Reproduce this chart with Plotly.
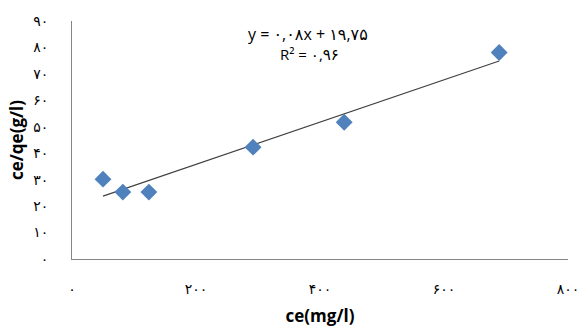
import plotly.graph_objects as go

# data
ce = [50, 82, 124, 292, 439, 689]
ce_qe = [30.2, 25.3, 25.3, 42.3, 51.7, 78.1]
slope = 0.08
intercept = 19.75
eq_text = "y = ۰,۰۸x + ۱۹,۷۵"
r2_text = "R² = ۰,۹۶"

x_tick_vals = [0, 200, 400, 600, 800]
x_tick_text = ["۰", "۲۰۰", "۴۰۰", "۶۰۰", "۸۰۰"]
y_tick_vals = [0, 10, 20, 30, 40, 50, 60, 70, 80, 90]
y_tick_text = ["۰", "۱۰", "۲۰", "۳۰", "۴۰", "۵۰", "۶۰", "۷۰", "۸۰", "۹۰"]

trend_x = [min(ce), max(ce)]
trend_y = [slope * v + intercept for v in trend_x]

font_fam = "Open Sans, DejaVu Sans, sans-serif"
digit_fam = "DejaVu Sans, sans-serif"

fig = go.Figure()
fig.add_trace(go.Scatter(
    x=trend_x, y=trend_y, mode="lines",
    line=dict(color="#404040", width=1.2), showlegend=False, hoverinfo="skip"))
fig.add_trace(go.Scatter(
    x=ce, y=ce_qe, mode="markers",
    marker=dict(symbol="diamond", size=13, color="#4F81BD"),
    showlegend=False))

fig.add_annotation(xref="x", yref="paper", x=380, y=0.945,
                   text=eq_text, showarrow=False,
                   xanchor="center", yanchor="middle",
                   font=dict(family=font_fam, size=16, color="#000"))
fig.add_annotation(xref="x", yref="paper", x=383, y=0.862,
                   text=r2_text, showarrow=False,
                   xanchor="center", yanchor="middle",
                   font=dict(family=font_fam, size=15, color="#000"))

fig.update_layout(
    width=588, height=327,
    margin=dict(l=72, r=20, t=21, b=68),
    plot_bgcolor="white", paper_bgcolor="white",
    font=dict(family=font_fam, size=13, color="#000"),
    xaxis=dict(range=[0, 800], tickvals=x_tick_vals, ticktext=x_tick_text,
               showgrid=False, zeroline=False, showline=True,
               linecolor="#868686", linewidth=1, ticks="", automargin=False,
               ticklabelstandoff=17, tickfont=dict(family=digit_fam, size=14),
               title=dict(text="<b>ce(mg/l)</b>", font=dict(size=17), standoff=18)),
    yaxis=dict(range=[0, 90], tickvals=y_tick_vals, ticktext=y_tick_text,
               showgrid=False, zeroline=False, showline=True,
               linecolor="#868686", linewidth=1, ticks="", automargin=False,
               ticklabelstandoff=20, tickfont=dict(family=digit_fam, size=14),
               title=dict(text="<b>ce/qe(g/l)</b>", font=dict(size=17), standoff=5)),
)

fig.write_html("out.html")
